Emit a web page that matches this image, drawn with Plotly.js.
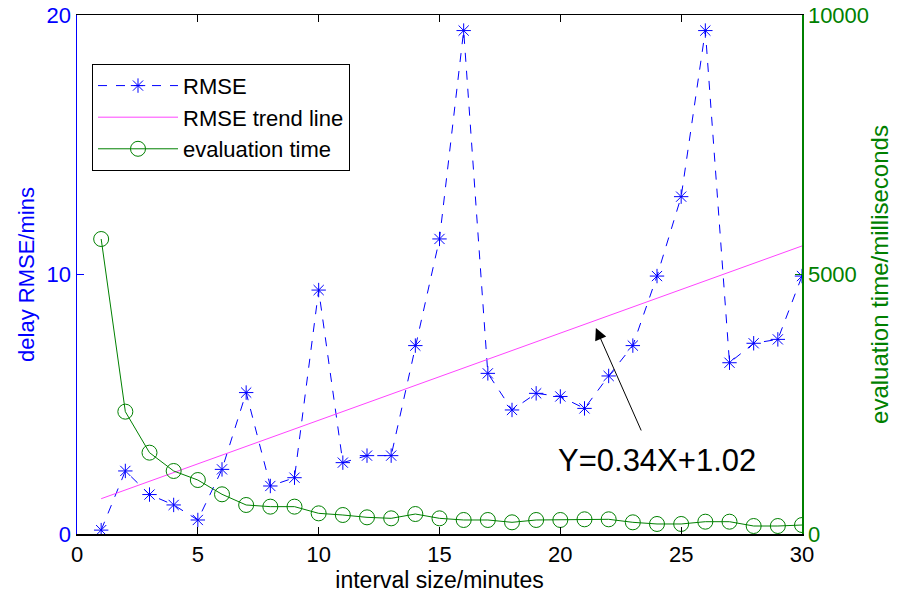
<!DOCTYPE html>
<html>
<head>
<meta charset="utf-8">
<script src="https://cdn.plot.ly/plotly-3.0.1.min.js"></script>
<style>html,body{margin:0;padding:0;background:#fff;}#chart{width:899px;height:594px;}</style>
</head>
<body>
<div id="chart"></div>
<script>
var intervals = [1,2,3,4,5,6,7,8,9,10,11,12,13,14,15,16,17,18,19,20,21,22,23,24,25,26,27,28,29,30];
var rmse = [0.15,2.43,1.52,1.12,0.54,2.49,5.45,1.85,2.17,9.4,2.75,3.02,3.02,7.26,11.37,19.4,6.19,4.78,5.42,5.3,4.84,6.09,7.26,9.94,13.0,19.4,6.6,7.35,7.5,9.94];
var evalTime = [5684,2357,1567,1214,1040,765,559,527,527,398,366,321,302,385,302,270,270,225,270,270,283,283,225,193,193,237,237,154,154,173];
var trendX = [1,30];
var trendY = [1.36,11.1];
var trendLabel = "Y=0.34X+1.02";
var leftTicks = [0,10,20];
var rightTicks = [0,5000,10000];
var rightTickText = ["0","5000","10000"];
var xTicks = [0,5,10,15,20,25,30];

var FONT = "Liberation Sans, Arial, sans-serif";

var traces = [
  {x: intervals, y: rmse, name: "RMSE", type: "scatter", mode: "lines+markers",
   line: {color: "#0000ff", width: 1, dash: "dash"},
   marker: {symbol: "asterisk-open", size: 12, color: "#0000ff", line: {color: "#0000ff", width: 1}},
   yaxis: "y"},
  {x: trendX, y: trendY, name: "RMSE trend line", type: "scatter", mode: "lines",
   line: {color: "#ff44ff", width: 1}, yaxis: "y"},
  {x: intervals, y: evalTime, name: "evaluation time", type: "scatter", mode: "lines+markers",
   line: {color: "#008000", width: 1},
   marker: {symbol: "circle-open", size: 15, color: "#008000", line: {color: "#008000", width: 1}},
   yaxis: "y2"}
];

var layout = {
  width: 899, height: 594,
  margin: {l: 77, r: 97, t: 15, b: 60, pad: 0},
  paper_bgcolor: "#fff", plot_bgcolor: "#fff",
  font: {family: FONT, size: 22, color: "#000"},
  showlegend: true,
  legend: {x: 0.0207, y: 0.906, xanchor: "left", yanchor: "top",
           bgcolor: "#fff", bordercolor: "#000", borderwidth: 1,
           font: {family: FONT, size: 22, color: "#000"}, itemwidth: 80,
           tracegroupgap: 0},
  xaxis: {range: [0, 30], tickvals: xTicks, ticks: "inside", ticklen: 7,
          tickcolor: "#000", showline: true, linecolor: "#000", linewidth: 1.5, mirror: "ticks",
          showgrid: false, zeroline: false,
          tickfont: {family: FONT, size: 22, color: "#000"},
          title: {text: "interval size/minutes", font: {family: FONT, size: 23, color: "#000"}, standoff: 2}},
  yaxis: {range: [0, 20], tickvals: leftTicks, ticks: "inside", ticklen: 7, tickcolor: "#0000ff",
          showline: true, linecolor: "#0000ff", linewidth: 1.5, showgrid: false, zeroline: false,
          tickfont: {family: FONT, size: 22, color: "#0000ff"},
          title: {text: "delay RMSE/mins", font: {family: FONT, size: 22, color: "#0000ff"}, standoff: 6}},
  yaxis2: {range: [0, 10000], tickvals: rightTicks, ticktext: rightTickText, overlaying: "y", side: "right",
           ticks: "inside", ticklen: 7, tickcolor: "#008000",
           showline: true, linecolor: "#008000", linewidth: 1.5, showgrid: false, zeroline: false,
           tickfont: {family: FONT, size: 22, color: "#008000"},
           title: {text: "evaluation time/milliseconds", font: {family: FONT, size: 24, color: "#008000"}, standoff: 3}},
  annotations: [
    {x: 21.47, y: 7.94, xref: "x", yref: "y", ax: 46, ay: 104, text: "", showarrow: true,
     arrowhead: 2, arrowsize: 2.4, arrowwidth: 1, arrowcolor: "#000"},
    {x: 24.0, y: 2.85, xref: "x", yref: "y", text: trendLabel, showarrow: false,
     font: {family: FONT, size: 31, color: "#000"}}
  ]
};

Plotly.newPlot("chart", traces, layout, {displayModeBar: false, staticPlot: true});
</script>
</body>
</html>
